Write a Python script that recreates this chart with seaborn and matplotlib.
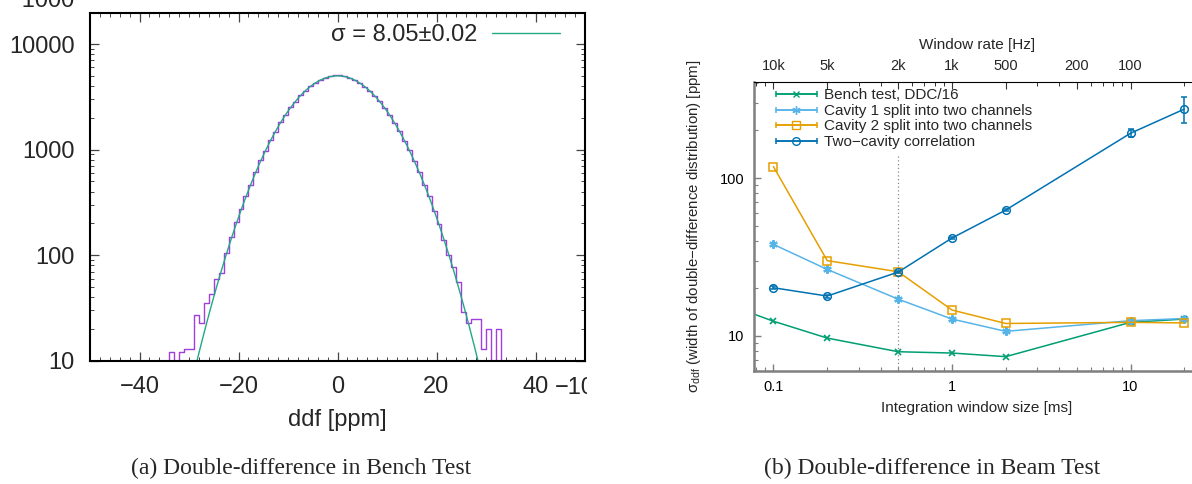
import matplotlib
matplotlib.use('Agg')
import matplotlib.pyplot as plt
import numpy as np
import pandas as pd
import seaborn as sns
from matplotlib.ticker import (MultipleLocator, LogLocator, FixedLocator,
                               NullFormatter, FuncFormatter)
from matplotlib.transforms import Bbox, TransformedBbox
from matplotlib.container import ErrorbarContainer
from matplotlib.legend_handler import HandlerErrorbar

# ---- (a) bench test: double-difference histogram, 1 ppm bins ----
hist_lo, hist_hi = -36, 35
hist_counts = [0, 0, 12, 0, 12, 13, 13, 27, 23, 35, 43, 59, 68, 104,
               150, 205, 272, 362, 466, 620, 790, 975, 1240, 1480, 1815,
               2120, 2510, 2840, 3260, 3590, 3980, 4250, 4570, 4780, 4930, 5050,
               5060, 4950, 4740, 4530, 4300, 3930, 3630, 3220, 2880, 2470,
               2150, 1790, 1510, 1210, 995, 775, 618, 465, 360, 262, 198, 138,
               100, 78, 56, 29, 23, 25, 25, 13, 20, 0, 20, 0, 0]
fit_amp = 5000.0
fit_sigma = 8.05
fit_label = 'σ = 8.05±0.02'

# ---- (b) beam test: width of double-difference vs window size ----
window_ms = [0.1, 0.2, 0.5, 1, 2, 10, 20]
bench_ms = [0.05, 0.1, 0.2, 0.5, 1, 2, 10, 20]
bench = [16.5, 12.4, 9.7, 7.95, 7.8, 7.4, 12.2, 12.8]
cavity1 = [38.0, 26.4, 17.1, 12.8, 10.7, 12.5, 12.9]
cavity2 = [118, 30.0, 25.5, 14.6, 12.0, 12.2, 12.1]
two_cavity = [20.2, 17.9, 25.4, 41.7, 62.7, 192, 273]
two_cavity_err = [0.4, 0.4, 0.5, 0.8, 1.2, 11, 51]
rate_ticks_ms = [0.1, 0.2, 0.5, 1, 2, 5, 10]
rate_labels = ['10k', '5k', '2k', '1k', '500', '200', '100']

HIST_C = '#a03ee0'
FIT_C = '#23a884'
C_GREEN, C_LBLUE, C_ORANGE, C_BLUE = '#009e73', '#56b4e9', '#e69f00', '#0072b2'
GRAY = '#7f7f7f'

sns.set_style('ticks')
plt.rcParams['font.family'] = ['Liberation Sans', 'DejaVu Sans']
plt.rcParams['mathtext.fontset'] = 'custom'
plt.rcParams['mathtext.rm'] = 'Liberation Sans'
plt.rcParams['mathtext.it'] = 'Liberation Sans:italic'

W, H = 1192, 484
fig = plt.figure(figsize=(W / 100, H / 100), dpi=100)


def px_rect(l, t, r, b):
    return [l / W, 1 - b / H, (r - l) / W, (b - t) / H]


# ================= left panel =================
ax1 = fig.add_axes(px_rect(90, 13, 585, 360.7))
hist_df = pd.DataFrame({'ddf': np.arange(hist_lo, hist_hi) + 0.5,
                        'count': hist_counts})
sns.histplot(data=hist_df, x='ddf', weights='count', binwidth=1,
             binrange=(hist_lo, hist_hi), element='step', fill=False,
             color=HIST_C, linewidth=1.0, ax=ax1)
fit_x = np.linspace(-50, 50, 801)
fit_y = fit_amp * np.exp(-fit_x ** 2 / (2 * fit_sigma ** 2))
sns.lineplot(x=fit_x, y=fit_y, color=FIT_C, linewidth=1.0, ax=ax1)
fit_line = ax1.lines[-1]

ax1.set_yscale('log')
ax1.set_xlim(-50, 50)
ax1.set_ylim(10, 19700)
ax1.xaxis.set_major_locator(FixedLocator([-40, -20, 0, 20, 40]))
ax1.xaxis.set_minor_locator(MultipleLocator(2))
ax1.yaxis.set_major_locator(LogLocator(10))
ax1.yaxis.set_minor_locator(LogLocator(10, subs=np.arange(2, 10)))
ax1.yaxis.set_major_formatter(FuncFormatter(lambda v, p: f'{v:.0f}'))
ax1.yaxis.set_minor_formatter(NullFormatter())
ax1.tick_params(which='both', direction='in', top=True, right=True,
                labelsize=17, color='#444444')
ax1.tick_params(which='major', length=6.5, width=0.9, pad=11)
ax1.tick_params(which='minor', length=3, width=0.7)
for s in ax1.spines.values():
    s.set_linewidth(1.5)
    s.set_color('black')
ax1.set_xlabel('ddf [ppm]', fontsize=17, labelpad=8)
ax1.set_ylabel('')
ax1.legend([fit_line], [fit_label], loc='center right',
           bbox_to_anchor=(0.9495, 0.9367), frameon=False, markerfirst=False,
           fontsize=17, handlelength=2.88, handletextpad=0.64,
           borderpad=0, borderaxespad=0)

# bits of neighbouring panels cut off in the original figure
fig.text(75 / W, 1 - 7 / H, '−1000', ha='right', va='baseline', fontsize=17)
t = fig.text(555 / W, 1 - 394 / H, '−10', ha='left', va='baseline', fontsize=17)
t.set_clip_box(TransformedBbox(Bbox([[0, 0], [587 / W, 1]]), fig.transFigure))
t.set_clip_on(True)

# ================= right panel =================
ax2 = fig.add_axes(px_rect(754, 82.3, 1200, 370.7))
ax2.set_xscale('log')
ax2.set_yscale('log')
ax2.axvline(0.5, color='#8a8a8a', ls=(0, (1, 2)), lw=0.9, zorder=0.5)

sns.lineplot(x=bench_ms, y=bench, color=C_GREEN, marker='x', markersize=5,
             markeredgecolor=C_GREEN, markeredgewidth=1.2, linewidth=1.1, ax=ax2)
sns.lineplot(x=window_ms, y=cavity1, color=C_LBLUE, marker=(6, 2, 0),
             markersize=6, markeredgecolor=C_LBLUE, markeredgewidth=1.6,
             linewidth=1.1, ax=ax2)
sns.lineplot(x=window_ms, y=cavity2, color=C_ORANGE, marker='s', markersize=5.5,
             markerfacecolor='none', markeredgecolor=C_ORANGE,
             markeredgewidth=1.1, linewidth=1.1, ax=ax2)
sns.lineplot(x=window_ms, y=two_cavity, color=C_BLUE, marker='o', markersize=5.5,
             markerfacecolor='none', markeredgecolor=C_BLUE,
             markeredgewidth=1.1, linewidth=1.1, ax=ax2)
ax2.errorbar(window_ms, two_cavity, yerr=two_cavity_err, fmt='none',
             ecolor=C_BLUE, elinewidth=1.1, capsize=2.5, capthick=1.1)

ax2.set_xlim(0.0778, 24.5)
ax2.set_ylim(6.03, 403.5)
for axis in (ax2.xaxis, ax2.yaxis):
    axis.set_major_locator(LogLocator(10))
    axis.set_major_formatter(FuncFormatter(lambda v, p: f'{v:g}'))
    axis.set_minor_locator(LogLocator(10, subs=np.arange(2, 10)))
    axis.set_minor_formatter(NullFormatter())
ax2.tick_params(which='both', direction='in', color=GRAY, labelsize=10.5,
                labelcolor='black')
ax2.tick_params(which='major', length=5, width=1, pad=7)
ax2.tick_params(which='minor', length=3, width=0.8)
ax2.spines['right'].set_visible(False)
ax2.spines['top'].set_visible(False)
for s in ('left', 'bottom'):
    ax2.spines[s].set_color(GRAY)
    ax2.spines[s].set_linewidth(1.8)
ax2.set_xlabel('Integration window size [ms]', fontsize=11, labelpad=5)
ax2.set_ylabel('σ$_{\\rm ddf}$ (width of double−difference distribution) [ppm]',
               fontsize=10.8)
ax2.yaxis.set_label_coords(-(754 - 703) / 446, 0.5)

top = ax2.twiny()
top.set_xscale('log')
top.set_xlim(ax2.get_xlim())
top.xaxis.set_major_locator(FixedLocator(rate_ticks_ms))
top.set_xticklabels(rate_labels)
top.xaxis.set_minor_locator(LogLocator(10, subs=np.arange(2, 10)))
top.xaxis.set_minor_formatter(NullFormatter())
for s in ('left', 'right', 'bottom'):
    top.spines[s].set_visible(False)
top.spines['top'].set_color('black')
top.spines['top'].set_linewidth(0.8)
top.tick_params(which='both', direction='in', color='#333333', labelsize=10.5)
top.tick_params(which='major', length=5, width=0.8, pad=7)
top.tick_params(which='minor', length=3, width=0.7)
top.set_xlabel('Window rate [Hz]', fontsize=11, labelpad=7)

# legend in gnuplot style: |--marker--| samples
proxies = []
for color, marker, mfc, ms in [(C_GREEN, 'x', C_GREEN, 5), (C_LBLUE, (6, 2, 0), C_LBLUE, 6),
                               (C_ORANGE, 's', 'none', 5.5), (C_BLUE, 'o', 'none', 5.5)]:
    proxies.append(ax2.errorbar([np.nan], [np.nan], xerr=[1.0], color=color,
                                marker=marker, mfc=mfc, mec=color, ms=ms, lw=1.1,
                                elinewidth=1.1, capsize=2.5, capthick=1.1))
series_labels = ['Bench test, DDC/16', 'Cavity 1 split into two channels',
                 'Cavity 2 split into two channels', 'Two−cavity correlation']
leg = ax2.legend(proxies, series_labels, loc='upper left',
                 bbox_to_anchor=(0.0426 - 0.008, 1.0), fontsize=11,
                 handlelength=2.72, handletextpad=0.45, labelspacing=0.1,
                 borderpad=0.3, borderaxespad=0.1, frameon=True,
                 facecolor='white', edgecolor='white', framealpha=1,
                 fancybox=False,
                 handler_map={ErrorbarContainer: HandlerErrorbar(xerr_size=1.36)})

# captions
fig.text(301 / W, 1 - 468 / H, '(a) Double-difference in Bench Test', ha='center',
         va='center', family=['Liberation Serif', 'DejaVu Serif'], fontsize=17)
fig.text(932 / W, 1 - 468 / H, '(b) Double-difference in Beam Test', ha='center',
         va='center', family=['Liberation Serif', 'DejaVu Serif'], fontsize=17)

fig.savefig('out.png', dpi=100)
